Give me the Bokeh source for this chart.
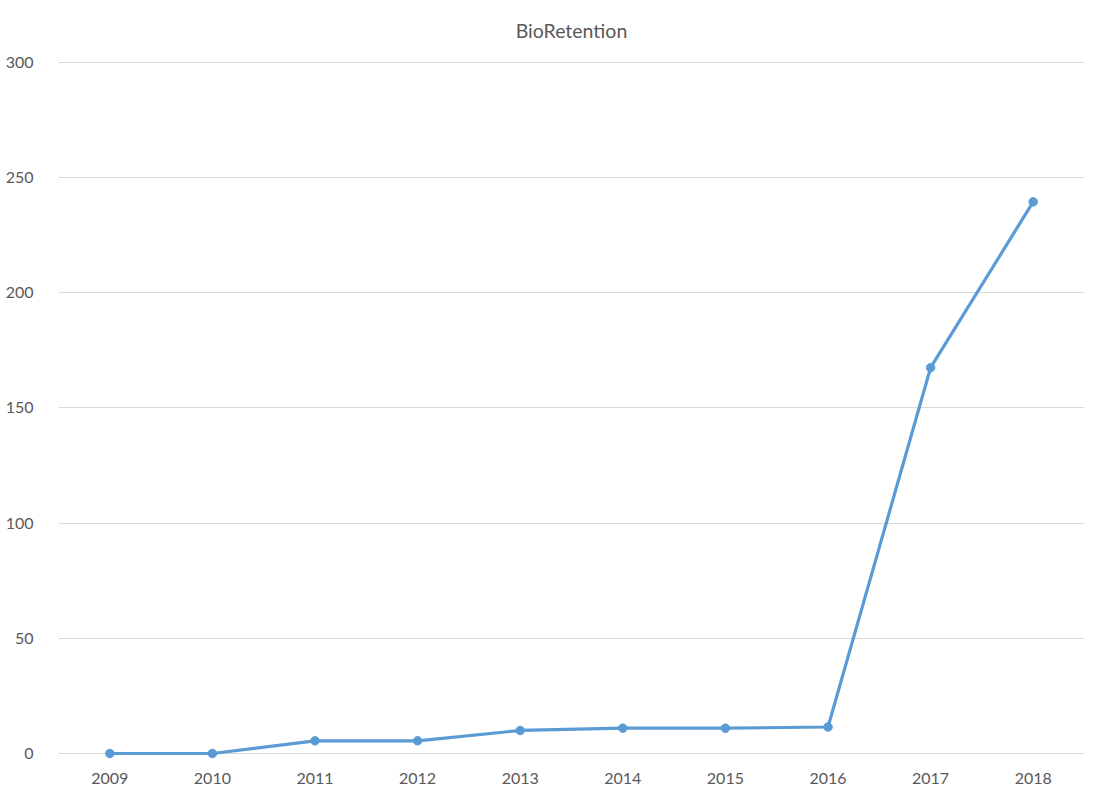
from bokeh.plotting import figure
from bokeh.models import ColumnDataSource, Range1d, FixedTicker
from bokeh.embed import file_html
from bokeh.resources import INLINE

years = ["2009", "2010", "2011", "2012", "2013", "2014", "2015", "2016", "2017", "2018"]
values = [0, 0, 5.5, 5.5, 10, 11, 11, 11.5, 167.5, 239.5]
y_ticks = [0, 50, 100, 150, 200, 250, 300]
chart_title = "BioRetention"

FONT = "Lato"
TXT = "#595959"
BLUE = "#5B9BD5"
GRID = "#D9D9D9"

src = ColumnDataSource(dict(x=years, y=values))

p = figure(
    x_range=years,
    y_range=Range1d(-2.17, 300.43),
    width=1102, height=796,
    output_backend="svg", toolbar_location=None,
    min_border_left=58, min_border_right=18,
    min_border_top=61, min_border_bottom=38,
    title=chart_title,
)
p.frame_width = 1026
p.frame_height = 697

p.title.align = "center"
p.title.vertical_align = "top"
p.title.text_font = FONT
p.title.text_font_size = "19.5px"
p.title.text_font_style = "normal"
p.title.text_color = TXT
p.title.standoff = 35

p.outline_line_color = None
p.background_fill_color = "white"
p.border_fill_color = "white"

p.line("x", "y", source=src, line_color=BLUE, line_width=3.2)
p.scatter("x", "y", source=src, size=8.5, fill_color=BLUE, line_color=BLUE)

p.yaxis.ticker = FixedTicker(ticks=y_ticks)
p.yaxis.axis_line_color = None
p.yaxis.major_tick_line_color = None
p.yaxis.minor_tick_line_color = None
p.yaxis.major_label_standoff = 19
p.yaxis.major_label_text_font = FONT
p.yaxis.major_label_text_font_size = "16px"
p.yaxis.major_label_text_color = TXT

p.xaxis.axis_line_color = None
p.xaxis.major_tick_line_color = None
p.xaxis.minor_tick_line_color = None
p.xaxis.major_label_standoff = 8
p.xaxis.major_label_text_font = FONT
p.xaxis.major_label_text_font_size = "16px"
p.xaxis.major_label_text_color = TXT

p.xgrid.grid_line_color = None
p.ygrid.grid_line_color = GRID
p.ygrid.grid_line_width = 1
p.ygrid.level = "underlay"

open("out.html", "w").write(file_html(p, INLINE))
